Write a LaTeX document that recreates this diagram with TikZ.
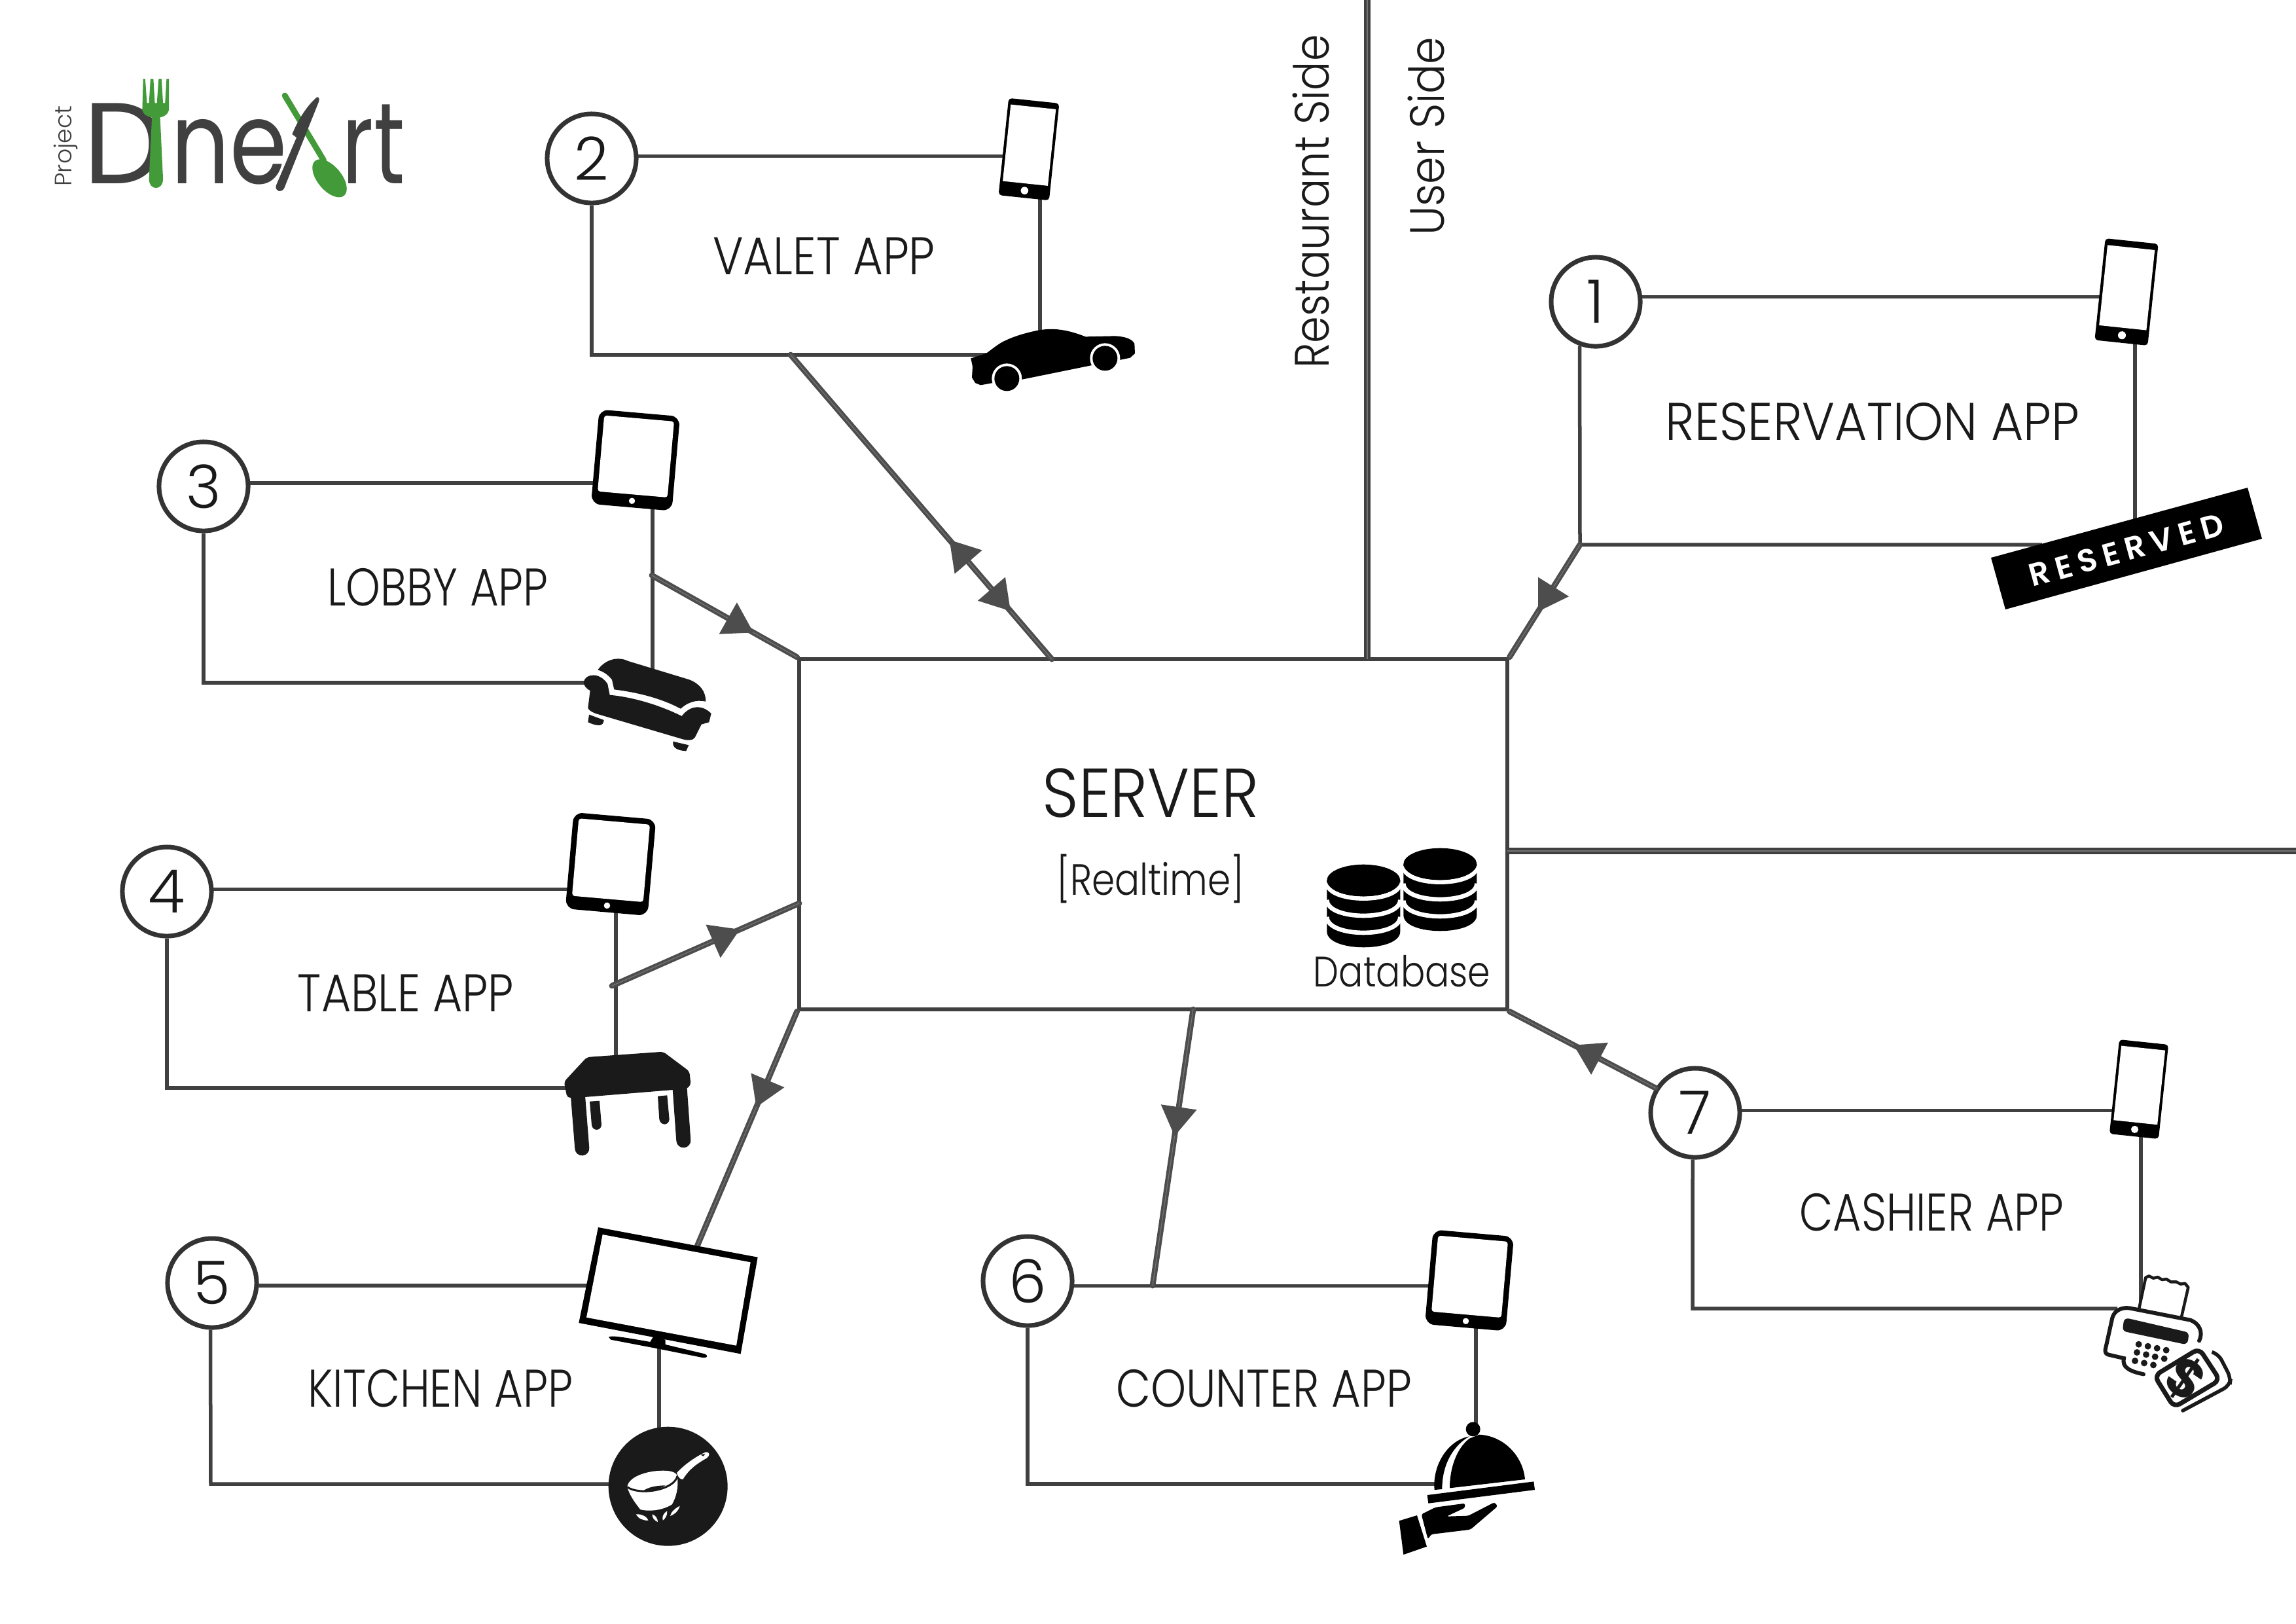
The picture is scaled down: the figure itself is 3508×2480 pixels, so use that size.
\documentclass[tikz,border=0pt]{standalone}
\usepackage{fontspec}
\usepackage{graphicx}
\setmainfont{Poppins Light}
\newfontfamily\stampfont{Poppins SemiBold}
\newfontfamily\logofont{Poppins}
\newfontfamily\cashfont{Poppins Bold}
\usetikzlibrary{arrows.meta,decorations.markings,calc}
\definecolor{ln}{HTML}{404040}
\definecolor{ar}{HTML}{4D4D4D}
\definecolor{ari}{HTML}{757575}
\definecolor{ink}{HTML}{1A1A1A}
\definecolor{grn}{HTML}{439A39}
\tikzset{
  wire/.style={draw=ln,line width=.055cm},
  link/.style={draw=ar,line width=.038cm,double=ari,double distance=.012cm,line cap=round},
  divline/.style={draw=ln,line width=.042cm,double=ari,double distance=.012cm},
  head/.style={postaction={decorate,decoration={markings,mark=at position #1 with {\arrow{Triangle[length=.52cm,width=.62cm,color=ar,fill=ar]}}}}},
  headback/.style={postaction={decorate,decoration={markings,mark=at position #1 with {\arrowreversed{Triangle[length=.52cm,width=.62cm,color=ar,fill=ar]}}}}},
  numc/.style={circle,draw=ln!80!black,fill=white,line width=.07cm,minimum size=1.36cm,inner sep=0pt,font=\fontsize{26}{30}\selectfont,text=ink},
  srvbox/.style={rectangle,draw=ln,line width=.06cm,fill=white,minimum width=10.82cm,minimum height=5.35cm,inner sep=0pt},
  lab/.style={inner sep=0pt,text=ink,font=\fontsize{23}{28}\selectfont},
  logotext/.style={inner sep=0pt,anchor=base west,text=ln,font=\logofont\fontsize{50}{60}\selectfont},
  zoomed/.style={shift={(#1)},scale=.33333},
}
\newcommand{\squeeze}[2]{\scalebox{#1}[1]{#2}}
% phone/tablet icon: centre, rotation, scale
\newcommand{\phoneicon}[3]{\begin{scope}[shift={(#1)},rotate=#2,scale=#3]
 \fill[black,rounded corners=.05cm] (-37,-71) rectangle (37,71);
 \fill[white] (-33,-62) rectangle (33,50);
 \fill[white] (0,60.5) circle (5.5);
\end{scope}}
\newcommand{\tableticon}[3]{\begin{scope}[shift={(#1)},rotate=#2,scale=#3]
 \fill[black,rounded corners=.14cm] (-59,-69) rectangle (59,69);
 \fill[white,rounded corners=.04cm] (-51,-61) rectangle (51,50);
 \fill[white] (0,59.5) circle (4.5);
\end{scope}}
\newcommand{\dbstack}[1]{\begin{scope}[shift={(#1)}]
 \fill[black] (232,285) -- (232,519) .. controls (232,616) and (568,616) .. (568,519) -- (568,285) -- cycle;
 \foreach \yy in {295,374,452}{
  \draw[white,line width=.0667cm] (232,\yy) .. controls (232,\yy+97) and (568,\yy+97) .. (568,\yy);
 }
 \fill[black] (400,285) ellipse [x radius=168,y radius=73];
\end{scope}}
\begin{document}
\begin{tikzpicture}[x=.01cm,y=-.01cm]
\fill[white] (0,0) rectangle (3508,2480);
\useasboundingbox (0,0) rectangle (3508,2480);

% server and numbered circles
\node[srvbox] (srv) at (1762,1274.5) {};
\node[lab,font=\fontsize{30}{36}\selectfont] (srvt) at (1758,1212) {\squeeze{.92}{SERVER}};
\node[lab,font=\fontsize{19}{24}\selectfont] (srvr) at (1758,1342) {\squeeze{.845}{[Realtime]}};
\node[lab,font=\fontsize{18.5}{24}\selectfont,anchor=base] (dbt) at (2142,1507) {\squeeze{.85}{Database}};
\node[numc] (c1) at (2438,461) {1};
\node[numc] (c2) at (904,242) {2};
\node[numc] (c3) at (311,743) {3};
\node[numc] (c4) at (255,1362) {4};
\node[numc] (c5) at (324,1960) {5};
\node[numc] (c6) at (1570,1957) {6};
\node[numc] (c7) at (2590,1700) {7};

% labels
\node[lab] (l1) at (2861,644) {\squeeze{.937}{RESERVATION APP}};
\node[lab] (l2) at (1259,391) {\squeeze{.873}{VALET APP}};
\node[lab] (l3) at (669,897) {\squeeze{.83}{LOBBY APP}};
\node[lab] (l4) at (620,1517) {\squeeze{.86}{TABLE APP}};
\node[lab] (l5) at (673,2121) {\squeeze{.834}{KITCHEN APP}};
\node[lab] (l6) at (1931,2121) {\squeeze{.85}{COUNTER APP}};
\node[lab] (l7) at (2951,1852) {\squeeze{.825}{CASHIER APP}};
\node[lab,rotate=90,font=\fontsize{21}{26}\selectfont] (rs) at (2003,308) {\squeeze{.887}{Restaurant Side}};
\node[lab,rotate=90,font=\fontsize{21}{26}\selectfont] (us) at (2179,208) {\squeeze{.905}{User Side}};

% free connector ends
\coordinate (a1) at (3210,454); \coordinate (a1b) at (3262,524); \coordinate (a1c) at (3262,795);
\coordinate (a1d) at (3120,832); \coordinate (a1e) at (2414,832);
\coordinate (a2) at (1532,238); \coordinate (a2b) at (1589,302); \coordinate (a2c) at (1589,505);
\coordinate (a2d) at (1540,542); \coordinate (a2e) at (904,542); \coordinate (a2f) at (1208,542);
\coordinate (a3) at (915,738); \coordinate (a3b) at (997,775); \coordinate (a3c) at (997,1022);
\coordinate (a3d) at (895,1043); \coordinate (a3e) at (311,1043); \coordinate (a3f) at (996,879);
\coordinate (a4) at (875,1358); \coordinate (a4b) at (941,1393); \coordinate (a4c) at (941,1615);
\coordinate (a4d) at (865,1662); \coordinate (a4e) at (255,1662); \coordinate (a4f) at (935,1506);
\coordinate (a5) at (897,1963); \coordinate (a5b) at (1007,2060); \coordinate (a5c) at (1007,2182);
\coordinate (a5d) at (932,2267); \coordinate (a5e) at (322,2267); \coordinate (a5f) at (1065,1904);
\coordinate (a6) at (2190,1964); \coordinate (a6b) at (2255,2027); \coordinate (a6c) at (2255,2175);
\coordinate (a6d) at (2195,2267); \coordinate (a6e) at (1570,2267); \coordinate (a6f) at (1761,1964);
\coordinate (a7) at (3235,1696); \coordinate (a7b) at (3271,1732); \coordinate (a7c) at (3271,1995);
\coordinate (a7d) at (3235,1999); \coordinate (a7e) at (2586,1999);
\coordinate (s2) at (1607,1007); \coordinate (s4) at (1221,1380); \coordinate (s6) at (1823,1542);
\coordinate (dv) at (2089,1007); \coordinate (dvt) at (2089,0);
\coordinate (hv) at (2303,1300); \coordinate (hvr) at (3508,1300);

% app boxes
\draw[wire] (c1.6) -- (c1.6 -| a1); \draw[wire] (a1b) -- (a1c);
\draw[wire] (c1.250) -- (a1e) -- (a1d);
\draw[wire] (c2.3) -- (c2.3 -| a2); \draw[wire] (a2b) -- (a2c);
\draw[wire] (c2.south) -- (a2e) -- (a2d);
\draw[wire] (c3.4) -- (c3.4 -| a3); \draw[wire] (a3b) -- (a3c);
\draw[wire] (c3.south) -- (a3e) -- (a3d);
\draw[wire] (c4.3) -- (c4.3 -| a4); \draw[wire] (a4b) -- (a4c);
\draw[wire] (c4.south) -- (a4e) -- (a4d);
\draw[wire] (c5.357) -- (c5.357 -| a5); \draw[wire] (a5b) -- (a5c);
\draw[wire] (c5.268) -- (a5e) -- (a5d);
\draw[wire] (c6.354) -- (c6.354 -| a6); \draw[wire] (a6b) -- (a6c);
\draw[wire] (c6.south) -- (a6e) -- (a6d);
\draw[wire] (c7.3) -- (c7.3 -| a7); \draw[wire] (a7b) -- (a7c);
\draw[wire] (c7.267) -- (a7e) -- (a7d);

% dividers
\draw[divline] (dvt) -- (dv);
\draw[divline] (hv) -- (hvr);

% links to the server
\draw[link,head=.72] (a3f) -- (srv.north west);
\draw[link,headback=.60,head=.85] (a2f) -- (s2);
\draw[link,head=.70] (a4f) -- (s4);
\draw[link,head=.42] (srv.south west) -- (a5f);
\draw[link,head=.47] (s6) -- (a6f);
\draw[link,head=.58] (c7.148) -- (srv.south east);
\draw[link,head=.62] (a1e) -- (srv.north east);

% devices
\phoneicon{3249,446}{-6}{1.1}
\phoneicon{1572,228}{-6}{1.05}
\phoneicon{3268,1664}{-6}{1.02}
\tableticon{971,703}{-5}{1.05}
\tableticon{933,1320}{-5}{1.07}
\tableticon{2245,1956}{-5}{1.05}

% reserved stamp
\fill[black] (3042,852) -- (3434,745) -- (3456,823) -- (3064,931) -- cycle;
\node[inner sep=0pt,text=white,rotate=15.3,font=\stampfont\fontsize{13.8}{16}\selectfont] (stamp) at (3249,840) {\addfontfeature{LetterSpace=20}RESERVED};

% car
\begin{scope}[zoomed={1450,470}]
 \fill[black] (100,232) -- (170,210) .. controls (210,180) and (235,160) .. (260,150) .. controls (300,130) and (370,110) .. (420,102) .. controls (470,95) and (530,95) .. (625,133) -- (760,130) .. controls (810,132) and (840,145) .. (850,165) -- (852,210) -- (830,230) -- (780,240) -- (650,265) -- (330,330) -- (200,345) -- (145,355) -- (120,345) -- (105,320) -- (108,270) -- cycle;
 \fill[white] (715,232) circle (69); \fill[white] (265,325) circle (69);
 \fill[black] (715,232) circle (57); \fill[black] (265,325) circle (57);
\end{scope}

% sofa
\begin{scope}[zoomed={800,950},fill=ink]
 \fill (340,220) .. controls (380,165) and (440,160) .. (480,180) -- (760,265) .. controls (810,285) and (835,320) .. (835,365) .. controls (790,355) and (750,370) .. (720,398) .. controls (620,345) and (510,322) .. (415,310) -- (405,265) .. controls (385,240) and (365,228) .. (340,220) -- cycle;
 \fill (275,275) .. controls (285,235) and (350,230) .. (385,285) -- (395,335) .. controls (500,345) and (620,380) .. (725,432) .. controls (760,385) and (815,375) .. (860,420) -- (850,460) -- (815,470) -- (785,530) .. controls (775,545) and (750,545) .. (720,535) -- (330,420) .. controls (310,412) and (300,405) .. (295,395) -- (305,315) .. controls (285,305) and (275,290) .. (275,275) -- cycle;
 \fill (300,425) -- (368,450) .. controls (365,478) and (345,482) .. (295,460) -- cycle;
 \fill (685,548) -- (757,565) -- (745,592) .. controls (710,590) and (680,580) .. (685,548) -- cycle;
\end{scope}

% table
\begin{scope}[zoomed={850,1580}]
 \fill[ink,rounded corners=.05cm] (140,105) -- (490,80) -- (610,170) -- (617,235) -- (595,250) -- (130,288) -- (50,292) -- (35,218) -- cycle;
 \draw[ink,line width=.22cm,line cap=round] (98,270) -- (118,523);
 \draw[ink,line width=.22cm,line cap=round] (565,235) -- (583,487);
 \fill[ink] (153,308) -- (198,305) -- (207,415) .. controls (205,445) and (165,445) .. (162,415) -- cycle;
 \fill[ink] (465,284) -- (508,280) -- (518,390) .. controls (515,420) and (478,420) .. (472,390) -- cycle;
\end{scope}

% television
\begin{scope}[zoomed={860,1850}]
 \fill[black] (162,75) -- (893,212) -- (815,655) -- (73,513) -- cycle;
 \fill[white] (182,108) -- (860,235) -- (795,617) -- (108,488) -- cycle;
 \fill[black] (210,578) .. controls (220,570) and (260,575) .. (400,600) -- (415,575) -- (470,590) -- (470,612) -- (650,655) .. controls (670,665) and (660,675) .. (640,672) -- (440,632) -- (220,590) -- cycle;
\end{scope}

% pot on a burner
\begin{scope}[zoomed={880,2150}]
 \fill[ink] (422,362) circle (273);
 \fill[white] (235,365) .. controls (240,320) and (320,290) .. (400,290) .. controls (440,290) and (465,300) .. (465,320) .. controls (470,370) and (460,410) .. (440,445) .. controls (400,470) and (340,480) .. (295,468) .. controls (265,430) and (245,400) .. (235,365) -- cycle;
 \draw[ink,line width=.03cm] (235,365) .. controls (290,405) and (450,380) .. (465,315);
 \fill[ink] (305,385) .. controls (330,365) and (370,358) .. (410,358) .. controls (390,372) and (350,385) .. (305,385) -- cycle;
 \fill[white] (462,300) .. controls (500,260) and (550,225) .. (595,205) .. controls (615,205) and (615,220) .. (600,232) .. controls (560,255) and (520,280) .. (490,330) .. controls (480,330) and (470,325) .. (462,300) -- cycle;
 \fill[ink] (572,218) -- (592,212) -- (585,224) -- cycle;
 \fill[white] (275,490) .. controls (300,488) and (325,500) .. (332,518) .. controls (310,520) and (285,510) .. (275,490) -- cycle;
 \fill[white] (350,490) .. controls (365,495) and (375,510) .. (375,525) .. controls (360,520) and (348,505) .. (350,490) -- cycle;
 \fill[white] (418,475) .. controls (420,495) and (408,512) .. (398,518) .. controls (393,500) and (402,485) .. (418,475) -- cycle;
 \fill[white] (476,452) .. controls (470,475) and (450,492) .. (432,498) .. controls (435,480) and (455,462) .. (476,452) -- cycle;
\end{scope}

% cloche on a hand
\begin{scope}[zoomed={2100,2100}]
 \fill[black] (452,250) circle (33);
 \fill[black] (345,520) .. controls (345,430) and (375,340) .. (435,293) -- (480,275) .. controls (590,280) and (680,370) .. (690,480) -- cycle;
 \fill[black] (275,528) .. controls (265,410) and (340,300) .. (435,283) .. controls (370,320) and (310,400) .. (310,525) -- cycle;
 \fill[black] (242,552) -- (730,490) -- (735,528) -- (247,590) -- cycle;
 \fill[black,rounded corners=.03cm] (215,640) -- (280,608) -- (415,590) -- (415,610) -- (330,650) -- (430,647) -- (550,585) -- (565,603) -- (440,710) -- (260,732) -- (245,755) -- cycle;
 \fill[black] (113,670) -- (195,645) -- (240,788) -- (133,825) -- cycle;
\end{scope}

% cash register and money
\begin{scope}[zoomed={3150,1900}]
 \fill[white] (355,295) -- (385,155) -- (575,190) -- (545,340) -- cycle;
 \draw[ink,line width=.045cm,line join=round] (355,295) -- (385,155) -- (400,148) -- (420,158) -- (440,153) -- (460,165) -- (480,162) -- (500,175) -- (525,175) -- (545,185) -- (565,182) -- (580,200) -- (548,340);
 \draw[ink,line width=.06cm,line cap=round] (630,445) .. controls (650,405) and (630,365) .. (590,350) -- (310,295) .. controls (270,290) and (240,310) .. (232,340) -- (200,485) .. controls (198,500) and (205,508) .. (220,510) -- (285,525) .. controls (275,565) and (310,585) .. (375,598);
 \draw[ink,line width=.13cm,line cap=round,line join=round] (303,362) -- (562,422) -- (560,440) -- (300,385) -- cycle;
 \foreach \px/\py in {353/461,395/470,437/479,479/488,345/498,387/508,428/518,470/527,336/537,378/547,420/556}{\fill[ink] (\px,\py) circle (15);}
 \draw[ink,line width=.07cm,rounded corners=.1cm] (425,605) -- (630,480) -- (725,625) -- (515,750) -- cycle;
 \draw[ink,line width=.055cm,line cap=round,rounded corners=.1cm] (690,497) -- (718,505) -- (775,615) -- (770,650) -- (555,765);
 \node[inner sep=0pt,text=ink,rotate=-35,font=\cashfont\fontsize{23}{26}\selectfont] (cash) at (570,618) {\$};
\end{scope}

% database icon
\begin{scope}[zoomed={1950,1250}]
 \dbstack{0,0}
 \dbstack{351,-75}
\end{scope}

% logo
\node[logotext] (lgD) at (127,280) {D};
\node[logotext] (lgn) at (261,280) {\squeeze{.8}{ne}};
\node[logotext] (lgr) at (522,280) {\squeeze{.74}{rt}};
\node[inner sep=0pt,rotate=90,text=ln,font=\fontsize{10.3}{12}\selectfont] (lgp) at (101,223) {Project};
\begin{scope}[shift={(0,60)},xscale=.4464,yscale=.33333]
 \fill[grn] (490,182) -- (497,182) -- (503,292) -- (510,292) -- (515,182) -- (525,182) -- (530,292) -- (537,292) -- (543,182) -- (553,182) -- (558,292) -- (565,292) -- (570,182) -- (578,182) -- (578,325) .. controls (575,345) and (560,355) .. (548,358) -- (558,640) .. controls (558,695) and (510,695) .. (510,640) -- (520,358) .. controls (505,355) and (490,345) .. (487,325) -- cycle;
 \draw[grn,line width=.09cm,line cap=round] (975,258) -- (1108,555);
 \fill[grn,rotate around={-63:(1128,637)}] (1128,637) ellipse [x radius=95,y radius=45];
 \fill[ln] (1085,265) .. controls (1095,265) and (1093,280) .. (1090,290) -- (1045,440) -- (972,685) .. controls (960,705) and (940,695) .. (945,670) -- (1015,450) -- (1000,435) .. controls (1020,370) and (1050,305) .. (1085,265) -- cycle;
\end{scope}
\end{tikzpicture}
\end{document}
